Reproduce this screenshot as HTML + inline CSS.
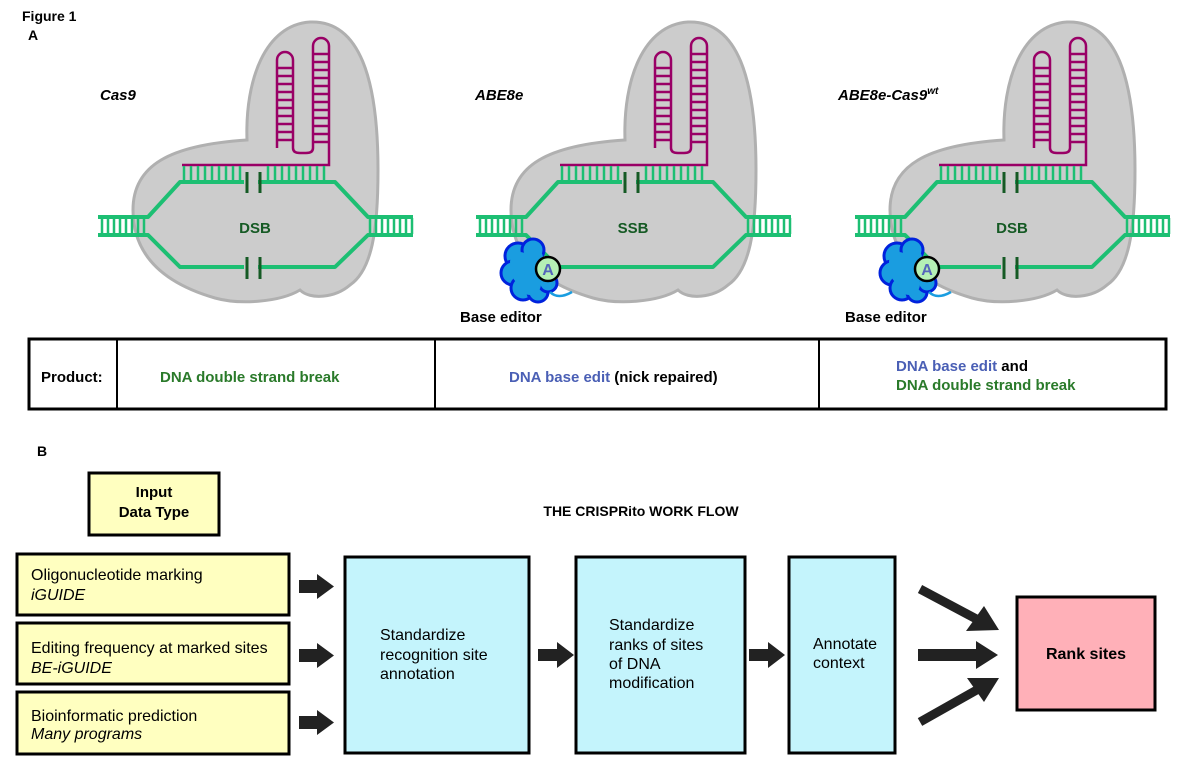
<!DOCTYPE html>
<html><head><meta charset="utf-8"><style>
body{margin:0;background:#fff;}
svg{display:block;font-family:"Liberation Sans",Arial,sans-serif;}
</style></head><body>
<svg width="1200" height="771" viewBox="0 0 1200 771" xmlns="http://www.w3.org/2000/svg">
<defs>
<g id="cas">
  <path d="M247,140 C245,80 265,25 310,22 C360,20 378,80 378,170 C378,230 372,270 350,285 C335,298 310,300 300,290 C280,302 240,305 215,298 C170,285 133,260 133,210 C133,165 170,145 247,140 Z" fill="#cccccc" stroke="#b0b0b0" stroke-width="3"/>
  <path d="M277,148 V60 A8,8 0 0 1 293,60 V148 Q293,153 300,153 H306 Q313,153 313,148 V46 A8,8 0 0 1 329,46 V165 H182" fill="none" stroke="#990066" stroke-width="2.5"/>
  <g stroke="#990066" stroke-width="2.5">
    <line x1="277" y1="68" x2="293" y2="68"/><line x1="277" y1="76" x2="293" y2="76"/><line x1="277" y1="84" x2="293" y2="84"/><line x1="277" y1="92" x2="293" y2="92"/><line x1="277" y1="100" x2="293" y2="100"/><line x1="277" y1="108" x2="293" y2="108"/><line x1="277" y1="116" x2="293" y2="116"/><line x1="277" y1="124" x2="293" y2="124"/><line x1="277" y1="132" x2="293" y2="132"/><line x1="277" y1="140" x2="293" y2="140"/>
    <line x1="313" y1="54" x2="329" y2="54"/><line x1="313" y1="62" x2="329" y2="62"/><line x1="313" y1="70" x2="329" y2="70"/><line x1="313" y1="78" x2="329" y2="78"/><line x1="313" y1="86" x2="329" y2="86"/><line x1="313" y1="94" x2="329" y2="94"/><line x1="313" y1="102" x2="329" y2="102"/><line x1="313" y1="110" x2="329" y2="110"/><line x1="313" y1="118" x2="329" y2="118"/><line x1="313" y1="126" x2="329" y2="126"/><line x1="313" y1="134" x2="329" y2="134"/><line x1="313" y1="142" x2="329" y2="142"/>
  </g>
  <g stroke="#1dbf73" stroke-width="2.5">
    <path d="M184,166V182M191,166V182M198,166V182M205,166V182M212,166V182M219,166V182M226,166V182M233,166V182M240,166V182M268,166V182M275,166V182M282,166V182M289,166V182M296,166V182M303,166V182M310,166V182M317,166V182M324,166V182"/>
    <path d="M102,218V234M108,218V234M114,218V234M120,218V234M126,218V234M132,218V234M138,218V234M144,218V234"/>
    <path d="M370,218V234M376,218V234M382,218V234M388,218V234M394,218V234M400,218V234M406,218V234M412,218V234"/>
  </g>
  <path d="M98,217 H148 L180,182 H335 L368,217 H413 M98,235 H148 L180,267 H335 L368,235 H413" fill="none" stroke="#1dbf73" stroke-width="4" stroke-linejoin="round"/>
</g>
<g id="nickTop"><rect x="244" y="176" width="14" height="12" fill="#cccccc"/><path d="M247,172V193M260,172V193" stroke="#155a24" stroke-width="3"/></g>
<g id="nickBot"><rect x="244" y="261" width="14" height="12" fill="#cccccc"/><path d="M247,257V279M260,257V279" stroke="#155a24" stroke-width="3"/></g>
<g id="be">
  <g fill="#1a9de0" stroke="#0022dd" stroke-width="3">
    <circle cx="140" cy="256" r="13"/><circle cx="155" cy="250" r="11"/><circle cx="135" cy="273" r="12"/><circle cx="145" cy="288" r="12"/><circle cx="160" cy="292" r="10"/><circle cx="170" cy="283" r="9"/>
  </g>
  <g fill="#1a9de0"><circle cx="150" cy="270" r="17"/><circle cx="155" cy="258" r="10"/><circle cx="152" cy="284" r="11"/><circle cx="142" cy="262" r="10"/></g>
  <path d="M172,292 Q180,300 194,292" fill="none" stroke="#1a9de0" stroke-width="2.5"/>
  <circle cx="170" cy="269" r="12" fill="#b5f0b5" stroke="#000" stroke-width="2.5"/>
  <text x="170" y="275" font-size="16" font-weight="bold" fill="#5566bb" text-anchor="middle">A</text>
</g>
</defs>

<text x="22" y="21" font-size="14" font-weight="bold">Figure 1</text>
<text x="28" y="40" font-size="14" font-weight="bold">A</text>

<use href="#cas"/>
<use href="#nickTop"/><use href="#nickBot"/>
<text x="255" y="233" font-size="15" font-weight="bold" fill="#155a24" text-anchor="middle">DSB</text>
<text x="100" y="100" font-size="15" font-weight="bold" font-style="italic">Cas9</text>

<g transform="translate(378,0)">
<use href="#cas"/><use href="#nickTop"/><use href="#be"/>
<text x="255" y="233" font-size="15" font-weight="bold" fill="#155a24" text-anchor="middle">SSB</text>
</g>
<text x="475" y="100" font-size="15" font-weight="bold" font-style="italic">ABE8e</text>
<text x="460" y="322" font-size="15" font-weight="bold">Base editor</text>

<g transform="translate(757,0)">
<use href="#cas"/><use href="#nickTop"/><use href="#nickBot"/><use href="#be"/>
<text x="255" y="233" font-size="15" font-weight="bold" fill="#155a24" text-anchor="middle">DSB</text>
</g>
<text x="838" y="100" font-size="15" font-weight="bold" font-style="italic">ABE8e-Cas9<tspan font-size="10" dy="-6">wt</tspan></text>
<text x="845" y="322" font-size="15" font-weight="bold">Base editor</text>

<rect x="29" y="339" width="1137" height="70" fill="#fff" stroke="#000" stroke-width="3"/>
<path d="M117,339V409M435,339V409M819,339V409" stroke="#000" stroke-width="2"/>
<text x="41" y="382" font-size="15" font-weight="bold">Product:</text>
<text x="160" y="382" font-size="15" font-weight="bold" fill="#2a7a2a">DNA double strand break</text>
<text x="509" y="382" font-size="15" font-weight="bold"><tspan fill="#4a5fb5">DNA base edit</tspan> (nick repaired)</text>
<text x="896" y="371" font-size="15" font-weight="bold"><tspan fill="#4a5fb5">DNA base edit</tspan> and</text>
<text x="896" y="390" font-size="15" font-weight="bold" fill="#2a7a2a">DNA double strand break</text>

<text x="37" y="456" font-size="14" font-weight="bold">B</text>
<rect x="89" y="473" width="130" height="62" fill="#ffffc0" stroke="#000" stroke-width="3"/>
<text x="154" y="497" font-size="15" font-weight="bold" text-anchor="middle">Input</text>
<text x="154" y="517" font-size="15" font-weight="bold" text-anchor="middle">Data Type</text>
<text x="641" y="516" font-size="14" font-weight="bold" text-anchor="middle">THE CRISPRito WORK FLOW</text>

<g fill="#ffffc0" stroke="#000" stroke-width="3">
<rect x="17" y="554" width="272" height="61"/>
<rect x="17" y="623" width="272" height="61"/>
<rect x="17" y="692" width="272" height="62"/>
</g>
<g font-size="16">
<text x="31" y="580">Oligonucleotide marking</text><text x="31" y="600" font-style="italic">iGUIDE</text>
<text x="31" y="653">Editing frequency at marked sites</text><text x="31" y="673" font-style="italic">BE-iGUIDE</text>
<text x="31" y="721">Bioinformatic prediction</text><text x="31" y="739" font-style="italic">Many programs</text>
</g>

<g fill="#c4f4fc" stroke="#000" stroke-width="3">
<rect x="345" y="557" width="184" height="196"/>
<rect x="576" y="557" width="169" height="196"/>
<rect x="789" y="557" width="106" height="196"/>
</g>
<rect x="1017" y="597" width="138" height="113" fill="#ffb0b8" stroke="#000" stroke-width="3"/>
<g font-size="16">
<text x="380" y="640">Standardize</text><text x="380" y="660">recognition site</text><text x="380" y="679">annotation</text>
<text x="609" y="630">Standardize</text><text x="609" y="650">ranks of sites</text><text x="609" y="669">of DNA</text><text x="609" y="688">modification</text>
<text x="813" y="649">Annotate</text><text x="813" y="668">context</text>
</g>
<text x="1086" y="659" font-size="16" font-weight="bold" text-anchor="middle">Rank sites</text>

<g fill="#222">
<path d="M299,580h18v-6l17,12.5l-17,12.5v-6h-18z"/>
<path d="M299,649h18v-6l17,12.5l-17,12.5v-6h-18z"/>
<path d="M299,716h18v-6l17,12.5l-17,12.5v-6h-18z"/>
<path d="M538,649h19v-7l17,13l-17,13v-7h-19z"/>
<path d="M749,649h19v-7l17,13l-17,13v-7h-19z"/>
<path d="M918,649h58v-8l22,14l-22,14v-8h-58z"/>
</g>
<path d="M920,589 L982,622" stroke="#222" stroke-width="9"/>
<path d="M999,630 L966,631 L984,606 Z" fill="#222"/>
<path d="M920,722 L982,687" stroke="#222" stroke-width="9"/>
<path d="M999,678 L967,678 L984,702 Z" fill="#222"/>
</svg>
</body></html>
